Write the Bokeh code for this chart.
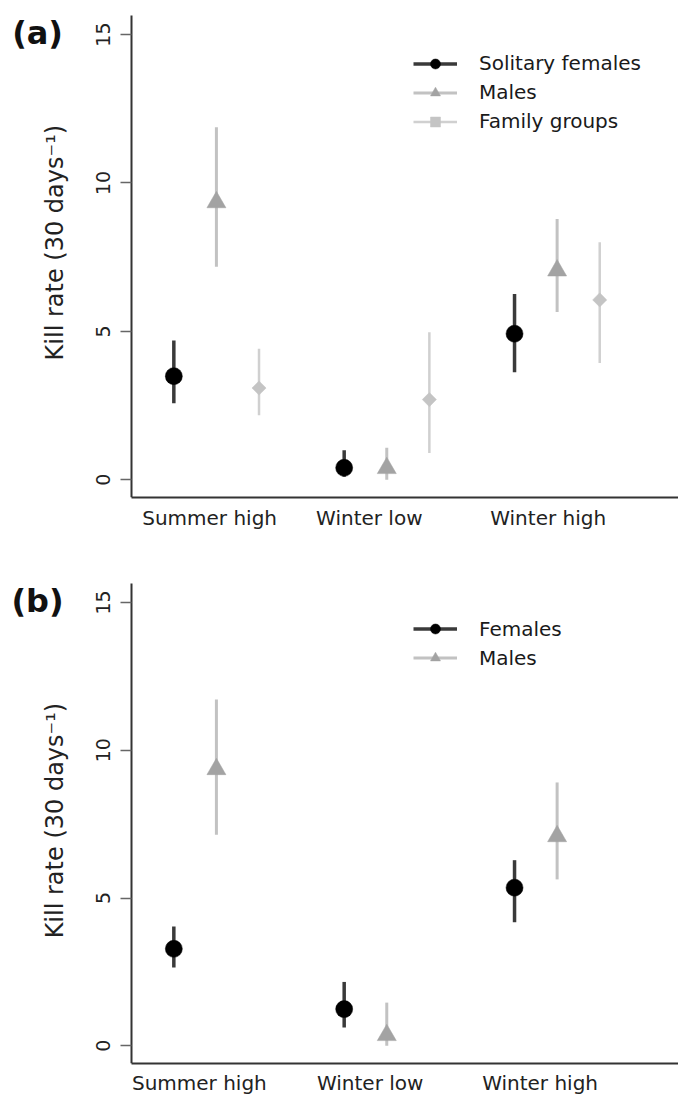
import math
from bokeh.plotting import figure
from bokeh.models import (ColumnDataSource, FixedTicker, Legend, LegendItem,
                          Label, Range1d)
from bokeh.layouts import column
from bokeh.embed import file_html
from bokeh.resources import INLINE

# ---------------- data ----------------
categories = ["Summer high", "Winter low", "Winter high"]
y_ticks = [0, 5, 10, 15]

# panel (a)
a_fem_mean = [3.49, 0.40, 4.92]
a_fem_lo = [2.58, 0.10, 3.62]
a_fem_hi = [4.69, 0.99, 6.26]
a_male_mean = [9.35, 0.39, 7.05]
a_male_lo = [7.18, 0.00, 5.65]
a_male_hi = [11.88, 1.08, 8.79]
a_fam_mean = [3.09, 2.70, 6.06]
a_fam_lo = [2.17, 0.90, 3.93]
a_fam_hi = [4.41, 4.97, 8.00]

# panel (b)
b_fem_mean = [3.28, 1.24, 5.35]
b_fem_lo = [2.65, 0.62, 4.18]
b_fem_hi = [4.04, 2.16, 6.28]
b_male_mean = [9.36, 0.36, 7.09]
b_male_lo = [7.14, 0.00, 5.63]
b_male_hi = [11.72, 1.46, 8.91]

group_x = [2, 6, 10]
label_pos_a = [1.84, 5.59, 9.79]
label_pos_b = [1.60, 5.61, 9.60]

FONT = "DejaVu Sans"

STYLES = {
    "fem": dict(marker="circle", size=17, fill="#000000", bar="#3a3a3a", bw=3.5, off=-1, angle=0.0),
    "male": dict(marker="triangle", size=19, fill="#a3a3a3", bar="#c2c2c2", bw=3.0, off=0, angle=0.0),
    "fam": dict(marker="square", size=10, fill="#c4c4c4", bar="#d0d0d0", bw=2.5, off=1, angle=math.pi / 4),
}

X_LO, X_HI = -3.07, 12.85
Y_LO, Y_HI, Y_AXIS_TOP = -0.6, 16.15, 15.64


def make_panel(height, border_bottom, series, label_pos, letter, title_y, legend_y, xstandoff):
    p = figure(width=678, height=height, output_backend="svg", toolbar_location=None,
               x_range=Range1d(X_LO, X_HI), y_range=Range1d(Y_LO, Y_HI),
               min_border_left=0, min_border_right=0, min_border_top=0,
               min_border_bottom=border_bottom)
    p.outline_line_color = None
    p.xgrid.visible = False
    p.ygrid.visible = False
    p.background_fill_color = "white"
    p.border_fill_color = "white"

    items = []
    for key, name, mean, lo, hi in series:
        st = STYLES[key]
        xs = [g + st["off"] for g in group_x]
        src = ColumnDataSource(dict(x=xs, y=mean, lo=lo, hi=hi))
        seg = p.segment(x0="x", y0="lo", x1="x", y1="hi", source=src,
                        line_color=st["bar"], line_width=st["bw"])
        sc = p.scatter(x="x", y="y", source=src, marker=st["marker"], size=st["size"],
                       angle=st["angle"], fill_color=st["fill"], line_color=st["fill"],
                       line_width=0.5)
        items.append(LegendItem(label=name, renderers=[seg, sc]))

    legend = Legend(items=items, location=(413, legend_y), padding=0, margin=0,
                    spacing=4, glyph_width=44, glyph_height=25, label_height=25,
                    label_standoff=22, border_line_alpha=0, background_fill_alpha=0,
                    label_text_font=FONT, label_text_font_size="20px",
                    label_text_color="#1a1a1a")
    p.add_layout(legend)

    # y axis, drawn at x = 0 inside the frame
    ya = p.yaxis[0]
    ya.fixed_location = 0
    ya.bounds = (Y_LO, Y_AXIS_TOP)
    ya.ticker = FixedTicker(ticks=y_ticks)
    ya.major_label_orientation = "vertical"
    ya.major_tick_out = 11
    ya.major_tick_in = 0
    ya.minor_tick_out = 0
    ya.minor_tick_in = 0
    ya.major_tick_line_color = "#666666"
    ya.major_tick_line_width = 1.5
    ya.axis_line_color = "#333333"
    ya.axis_line_width = 2
    ya.major_label_standoff = 10
    ya.major_label_text_font = FONT
    ya.major_label_text_font_size = "19px"
    ya.major_label_text_color = "#222222"

    # x axis
    xa = p.xaxis[0]
    xa.bounds = (0, X_HI)
    xa.ticker = FixedTicker(ticks=label_pos)
    xa.major_label_overrides = {lp: c for lp, c in zip(label_pos, categories)}
    xa.major_tick_out = 0
    xa.major_tick_in = 0
    xa.minor_tick_out = 0
    xa.minor_tick_in = 0
    xa.axis_line_color = "#333333"
    xa.axis_line_width = 2
    xa.major_label_standoff = xstandoff
    xa.major_label_text_font = FONT
    xa.major_label_text_font_size = "20px"
    xa.major_label_text_color = "#222222"

    p.add_layout(Label(x=-1.78, y=title_y,
                       text="Kill rate (30 days\u207b\u00b9)", angle=math.pi / 2,
                       text_align="center", text_baseline="middle",
                       text_font=FONT, text_font_size="24px", text_color="#222222"))
    p.add_layout(Label(x=-2.20, y=15.05,
                       text=letter, text_align="center", text_baseline="middle",
                       text_font=FONT, text_font_style="bold", text_font_size="32px",
                       text_color="#111111"))
    return p


pa = make_panel(568, 71,
                [("fem", "Solitary females", a_fem_mean, a_fem_lo, a_fem_hi),
                 ("male", "Males", a_male_mean, a_male_lo, a_male_hi),
                 ("fam", "Family groups", a_fam_mean, a_fam_lo, a_fam_hi)],
                label_pos_a, "(a)", 7.99, 363.5, 8)
pb = make_panel(529, 32,
                [("fem", "Females", b_fem_mean, b_fem_lo, b_fem_hi),
                 ("male", "Males", b_male_mean, b_male_lo, b_male_hi)],
                label_pos_b, "(b)", 7.62, 392.8, 7)

layout = column(pa, pb, spacing=0)
open("out.html", "w").write(file_html(layout, INLINE))
